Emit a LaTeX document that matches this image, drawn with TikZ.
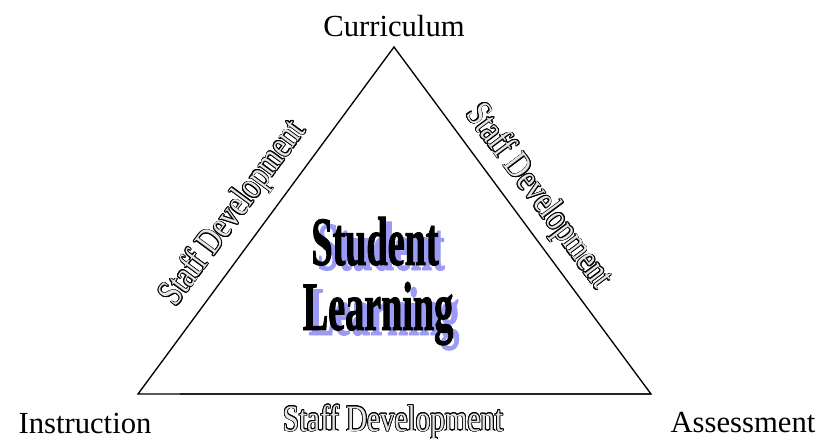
\documentclass[tikz,border=0pt]{standalone}
\usepackage{fontspec}
\setmainfont{Liberation Serif}
\newfontfamily\slimfont{Liberation Serif}[FakeStretch=0.55,FakeBold=1.2]
\newfontfamily\staffont{Liberation Serif}[FakeStretch=0.78]
\usepackage{contour}
\contourlength{0.6pt}
\usetikzlibrary{calc}
\definecolor{shadowblue}{RGB}{155,155,245}
\tikzset{
  corner/.style={font=\fontsize{23}{27}\selectfont, anchor=base},
  staff/.style={font=\staffont\fontsize{28}{32}\selectfont, text=white!90!black},
  bigword/.style={font=\slimfont\bfseries\fontsize{52}{55}\selectfont, anchor=base}
}

\begin{document}
\begin{tikzpicture}[x=0.75pt,y=-0.75pt]
			%%%%% START %%%%%
			\useasboundingbox (0, 0) rectangle (821, 443);
			
			\coordinate (top) at (394, 47);
			\coordinate (left) at (138, 394);
			\coordinate (right) at (651, 394);
			\coordinate (base) at (180, 394);
			
			\draw[line width=1.6, color=black!60] (base) -- (right);
			\draw[line width=1, line join=miter] (left) -- (top) -- (right) -- cycle;
			
			\node[corner] (curriculum) at (394, 36) {Curriculum};
			\node[corner] (instruction) at (85, 433) {Instruction};
			\node[corner] (assessment) at (743, 432) {Assessment};
			
			\node[staff, rotate=53.6] (staffleft) at (234, 214) {\contour{black}{Staff Development}};
			\node[staff, rotate=-53.2] (staffright) at (538, 197) {\contour{black}{Staff Development}};
			\node[staff, anchor=base] (staffbottom) at (393, 431) {\contour{black}{Staff Development}};
			
			\node[bigword, text=shadowblue] (studentshadow) at (381, 270) {Student};
			\node[bigword, text=shadowblue] (learningshadow) at (384, 335) {Learning};
			\node[bigword] (student) at (375, 265) {Student};
			\node[bigword] (learning) at (378, 330) {Learning};
			
			%%%%% END %%%%%
		\end{tikzpicture}
\end{document}
